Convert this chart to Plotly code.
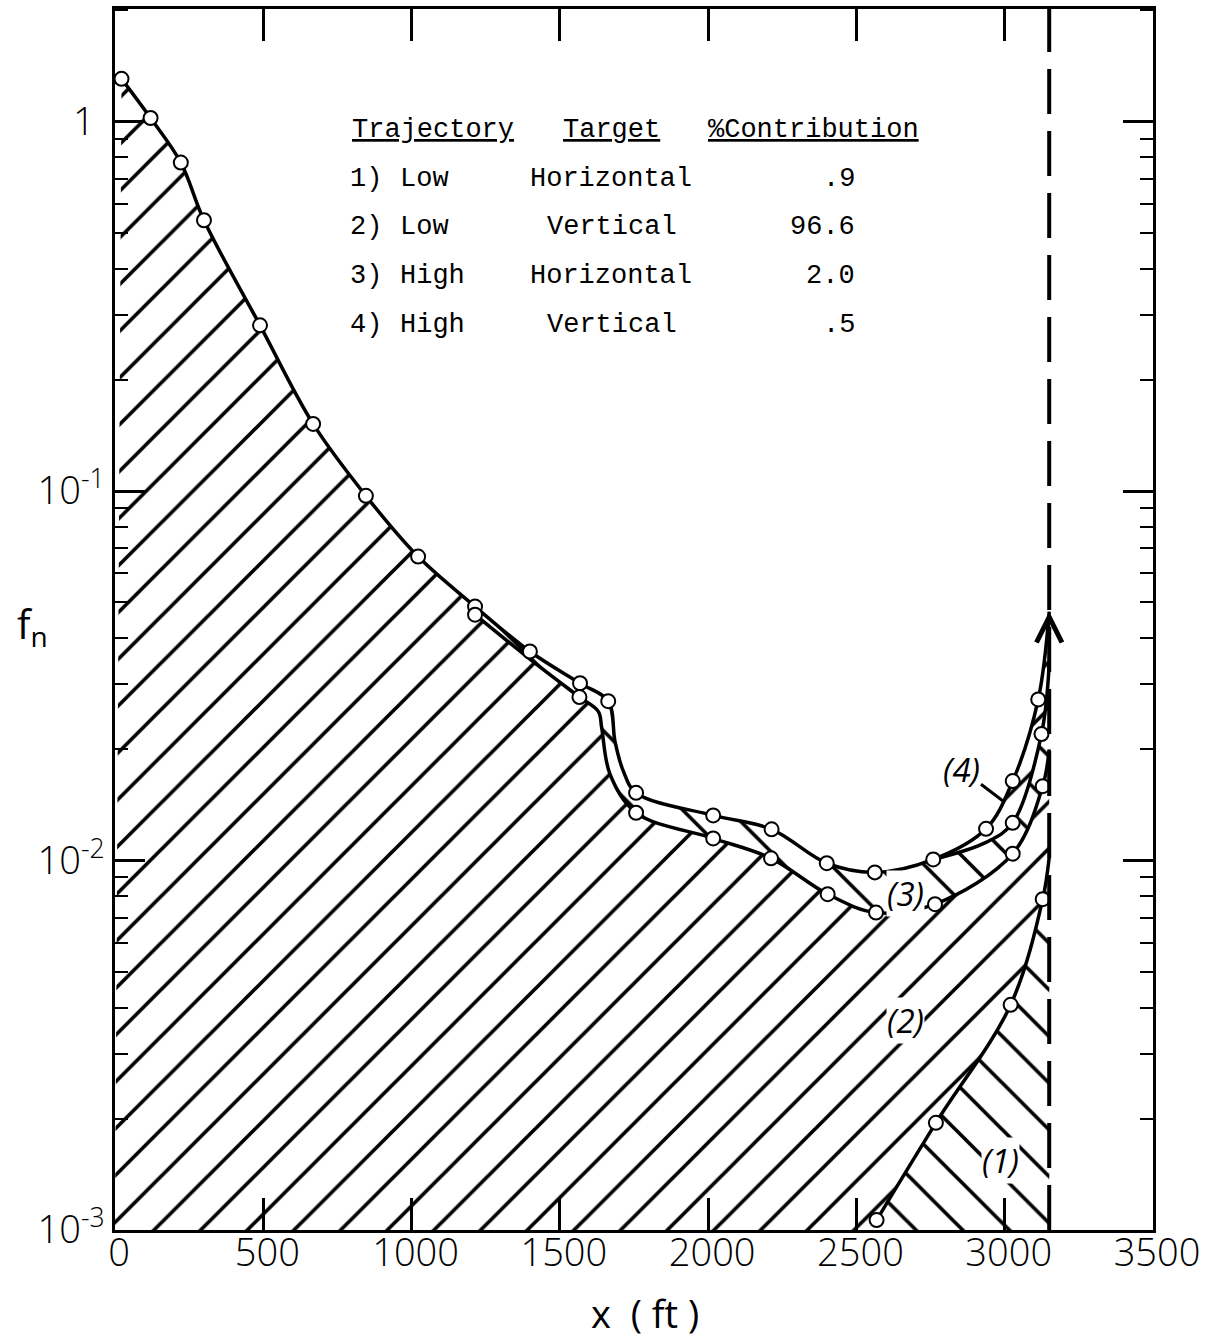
import math
import plotly.graph_objects as go

# ---------------- data ----------------
# total distribution (upper envelope); flag 1 = plotted data point, 0 = shape knot
t_x = [22, 120, 222, 300, 489, 668, 846, 1022, 1214, 1399, 1568, 1663, 1686, 1714,
       1757, 2017, 2214, 2400, 2562, 2759, 2937, 3027, 3113, 3150]
t_y = [1.306, 1.023, 0.775, 0.541, 0.281, 0.152, 0.0971, 0.0665, 0.0487, 0.0368,
       0.0302, 0.0270, 0.0210, 0.01746, 0.01525, 0.01325, 0.01215, 0.00984, 0.00929,
       0.01007, 0.01219, 0.01641, 0.0273, 0.0472]
t_pt = [1, 1, 1, 1, 1, 1, 1, 1, 1, 1, 1, 1, 0, 0, 1, 1, 1, 1, 1, 1, 1, 1, 1, 0]

# lower edge of the high-trajectory band (top of low/vertical contribution)
l_x = [1214, 1399, 1566, 1630, 1641, 1669, 1757, 2017, 2212, 2403, 2566, 2765,
       3027, 3128, 3150]
l_y = [0.0463, 0.0351, 0.0277, 0.0253, 0.0229, 0.01714, 0.01347, 0.01148, 0.01014,
       0.00811, 0.00723, 0.00762, 0.01044, 0.0159, 0.0200]
l_pt = [1, 0, 1, 0, 0, 0, 1, 1, 1, 1, 1, 1, 1, 1, 0]

# boundary between high/horizontal and high/vertical contributions
m_x = [2759, 2937, 3027, 3124, 3150]
m_y = [0.01007, 0.01120, 0.01265, 0.0220, 0.0340]
m_pt = [0, 0, 1, 1, 0]

# low trajectory, horizontal target
c1_x = [2568, 2768, 3020, 3128, 3150]
c1_y = [0.001064, 0.00195, 0.00407, 0.00786, 0.0102]
c1_pt = [1, 1, 1, 1, 0]

DASH_X = 3150
Y_MIN = 0.001

x_ticks = [0, 500, 1000, 1500, 2000, 2500, 3000, 3500]
y_ticks = [0.001, 0.01, 0.1, 1]
y_ticktext = ["10<sup>-3</sup>", "10<sup>-2</sup>", "10<sup>-1</sup>", "1 "]
y_minor = [m * 10 ** e for e in (-3, -2, -1, 0) for m in range(2, 10)]

table_header = ["Trajectory", "Target", "%Contribution"]
table_rows = [
    ["1)", "Low", "Horizontal", ".9"],
    ["2)", "Low", "Vertical", "96.6"],
    ["3)", "High", "Horizontal", "2.0"],
    ["4)", "High", "Vertical", ".5"],
]

# ---------------- figure ----------------
W, H = 1221, 1341
ML, MR, MT, MB = 115, 68, 6, 111
PW, PH = W - ML - MR, H - MT - MB

LABEL_FONT = "Open Sans"
MONO_FONT = "Liberation Mono"


def paper(xp, yp):
    return (xp - ML) / PW, (H - MB - yp) / PH


fig = go.Figure()


def hatched_band(lo_x, lo_y, up_x, up_y, shape):
    fig.add_trace(go.Scatter(x=lo_x, y=lo_y, mode="lines",
                             line=dict(width=0, shape="spline", color="black"),
                             hoverinfo="skip", showlegend=False))
    fig.add_trace(go.Scatter(x=up_x, y=up_y, mode="lines",
                             line=dict(width=0, shape="spline", color="black"),
                             fill="tonexty", fillcolor="white",
                             fillpattern=dict(shape=shape, size=33, solidity=0.11,
                                              fgcolor="black", bgcolor="white",
                                              fillmode="replace"),
                             hoverinfo="skip", showlegend=False))


def subset(xs, ys, x0):
    idx = [i for i, v in enumerate(xs) if v >= x0]
    return [xs[i] for i in idx], [ys[i] for i in idx]


# (2) low / vertical: everything under the envelope
hatched_band([0, DASH_X], [Y_MIN, Y_MIN], t_x, t_y, "/")
# (1) low / horizontal
hatched_band([c1_x[0], DASH_X], [Y_MIN, Y_MIN], c1_x, c1_y, "\\")
# (3) high / horizontal band
tx3, ty3 = subset(t_x, t_y, l_x[0])
hatched_band(l_x, l_y, tx3, ty3, "\\")
# (4) high / vertical band
tx4, ty4 = subset(t_x, t_y, m_x[0])
hatched_band(m_x, m_y, tx4, ty4, "/")

# curves
for xs, ys in ((t_x, t_y), (l_x, l_y), (m_x, m_y), (c1_x, c1_y)):
    fig.add_trace(go.Scatter(x=xs, y=ys, mode="lines",
                             line=dict(color="black", width=3.5, shape="spline"),
                             hoverinfo="skip", showlegend=False))

# data points
for xs, ys, flags in ((t_x, t_y, t_pt), (l_x, l_y, l_pt), (m_x, m_y, m_pt), (c1_x, c1_y, c1_pt)):
    px_ = [x for x, f in zip(xs, flags) if f]
    py_ = [y for y, f in zip(ys, flags) if f]
    fig.add_trace(go.Scatter(x=px_, y=py_, mode="markers",
                             marker=dict(symbol="circle", size=14, color="white",
                                         line=dict(color="black", width=2)),
                             hoverinfo="skip", showlegend=False))

# range limit
fig.add_shape(type="line", xref="x", yref="paper", x0=DASH_X, x1=DASH_X, y0=0, y1=1,
              line=dict(color="black", width=4, dash="45px,17px"))

annotations = []

# arrow on the envelope at the range limit
annotations.append(dict(x=DASH_X, y=math.log10(t_y[-1]), xref="x", yref="y", text="",
                        showarrow=True, arrowhead=5, arrowsize=2.5, arrowwidth=2,
                        arrowcolor="black", ax=0, ay=28))

# region labels
for lbl, (xp, yp) in (("(1)", (1000, 1160)), ("(2)", (905, 1020)), ("(3)", (905, 893))):
    xx, yy = paper(xp, yp)
    annotations.append(dict(x=xx, y=yy, xref="paper", yref="paper", text="<i>%s</i>" % lbl,
                            xanchor="center", yanchor="middle",
                            showarrow=False, bgcolor="white", borderpad=0,
                            font=dict(family=LABEL_FONT, size=33, color="black")))
tx, ty = paper(1003, 800)
annotations.append(dict(x=tx, y=ty, xref="paper", yref="paper", text="<i>(4)</i>",
                        xanchor="center", yanchor="middle",
                        showarrow=True, arrowhead=0, arrowwidth=3, arrowcolor="black",
                        ax=-42, ay=-32, standoff=0,
                        font=dict(family=LABEL_FONT, size=33, color="black")))

# contribution table
hdr_pos = [(350, "left"), (561, "left"), (706, "left")]
for txt, (xp, anchor) in zip(table_header, hdr_pos):
    xx, yy = paper(xp, 127)
    annotations.append(dict(x=xx, y=yy, xref="paper", yref="paper", text="<u>%s</u>" % txt,
                            xanchor=anchor, yanchor="middle", showarrow=False,
                            font=dict(family=MONO_FONT, size=27, color="black")))
row_y = [176, 225, 274, 323]
for row, yp in zip(table_rows, row_y):
    num, traj, target, pct = row
    cells = [(num, 348, "left"), (traj, 398, "left"),
             (target, 528 if target == "Horizontal" else 545, "left"),
             (pct, 857, "right")]
    for txt, xp, anchor in cells:
        xx, yy = paper(xp, yp)
        annotations.append(dict(x=xx, y=yy, xref="paper", yref="paper", text=txt,
                                xanchor=anchor, yanchor="middle", showarrow=False,
                                font=dict(family=MONO_FONT, size=27, color="black")))

# axis titles
xx, yy = paper(645, 1313)
annotations.append(dict(x=xx, y=yy, xref="paper", yref="paper", text="x  ( ft )",
                        xanchor="center", yanchor="middle",
                        showarrow=False, font=dict(family=LABEL_FONT, size=38, color="black")))
xx, yy = paper(32, 624)
annotations.append(dict(x=xx, y=yy, xref="paper", yref="paper", text="f<sub>n</sub>",
                        xanchor="center", yanchor="middle",
                        showarrow=False, font=dict(family=LABEL_FONT, size=40, color="black")))

fig.update_layout(
    width=W, height=H,
    margin=dict(l=ML, r=MR, t=MT, b=MB),
    paper_bgcolor="white", plot_bgcolor="white",
    showlegend=False,
    annotations=annotations,
)

fig.update_xaxes(
    range=[0, 3500], tickvals=x_ticks, ticktext=[str(v) for v in x_ticks],
    ticks="inside", ticklen=32, tickwidth=2.5, tickcolor="black",
    showline=True, linecolor="black", linewidth=2.5, mirror="ticks",
    showgrid=False, zeroline=False, ticklabelstandoff=-12, ticklabelshift=4,
    tickfont=dict(family=LABEL_FONT, size=38, color="black", weight=300),
)
fig.update_yaxes(
    type="log", range=[-3, 0.305], tickvals=y_ticks, ticktext=y_ticktext,
    ticks="inside", ticklen=30, tickwidth=2.5, tickcolor="black",
    minor=dict(tickvals=y_minor, ticks="inside", ticklen=13, tickwidth=2, tickcolor="black",
               showgrid=False),
    showline=True, linecolor="black", linewidth=2.5, mirror="ticks",
    showgrid=False, zeroline=False,
    tickfont=dict(family=LABEL_FONT, size=38, color="black", weight=300),
)

fig.write_html("out.html")
